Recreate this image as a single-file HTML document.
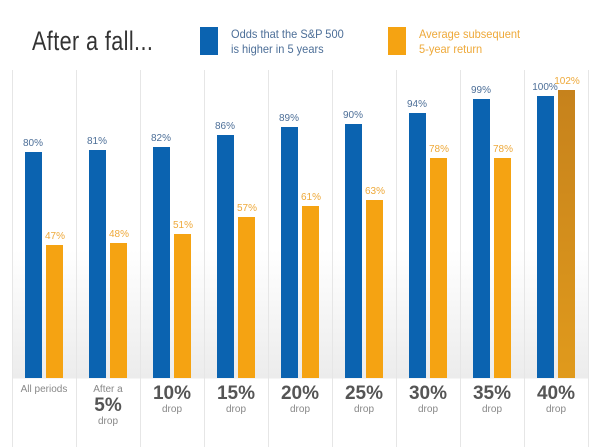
<!DOCTYPE html>
<html><head><style>
body{margin:0;width:600px;height:447px;background:#fff;font-family:"Liberation Sans",sans-serif;position:relative;overflow:hidden}
.a{position:absolute}
.col{position:absolute;top:70px;height:377px;width:64px;border-left:1px solid #e6e6e6;background:linear-gradient(#fff 0,#fff 180px,#ececec 308px,#fff 309px)}
.b{position:absolute;width:17px;background:#0b63b0}
.o{position:absolute;width:17px;background:#f5a312}
.lb{position:absolute;font-size:10px;color:#4d6f98;width:40px;text-align:center}
.lo{position:absolute;font-size:10px;color:#eea93a;width:40px;text-align:center}
.x{position:absolute;top:384px;width:64px;text-align:center;color:#888;font-size:10px;line-height:12px}
.x b{display:block;font-size:19px;line-height:20px;color:#555;font-weight:bold}
</style></head><body>
<div class="a" style="left:32px;top:26px;font-size:27px;color:#333;letter-spacing:0.5px;transform:scaleX(0.8);transform-origin:left">After a fall...</div>
<div class="a" style="left:200px;top:27px;width:18px;height:28px;background:#0b63b0"></div>
<div class="a" style="left:231px;top:27px;font-size:12px;line-height:15px;color:#4d6f98;transform:scaleX(0.92);transform-origin:left">Odds that the S&amp;P 500<br>is higher in 5 years</div>
<div class="a" style="left:388px;top:27px;width:18px;height:28px;background:#f5a312"></div>
<div class="a" style="left:419px;top:27px;font-size:12px;line-height:15px;color:#eea93a;transform:scaleX(0.92);transform-origin:left">Average subsequent<br>5-year return</div>
<div id="c"></div>
<script>
var L=[12,76,140,204,268,332,396,460,524];
var B=[80,81,82,86,89,90,94,99,100],O=[47,48,51,57,61,63,78,78,102];
var lab=['All periods','After a<b>5%</b>drop','<b>10%</b>drop','<b>15%</b>drop','<b>20%</b>drop','<b>25%</b>drop','<b>30%</b>drop','<b>35%</b>drop','<b>40%</b>drop'];
var h='',base=378,s=2.82;
for(var i=0;i<9;i++){var x=L[i];
h+='<div class="col" style="left:'+x+'px"></div>';}
h+='<div class="col" style="left:588px;width:10px;background:#fff"></div>';
for(var i=0;i<9;i++){var x=L[i];
var bh=B[i]*s,oh=O[i]*s;
h+='<div class="b" style="left:'+(x+13)+'px;top:'+(base-bh)+'px;height:'+bh+'px"></div>';
h+='<div class="o" style="left:'+(x+34)+'px;top:'+(base-oh)+'px;height:'+oh+'px;'+(i==8?'background:linear-gradient(#c6821c,#e09a1c)':'')+'"></div>';
h+='<div class="lb" style="left:'+(x+1)+'px;top:'+(base-bh-14)+'px">'+B[i]+'%</div>';
h+='<div class="lo" style="left:'+(x+23)+'px;top:'+(base-oh-14)+'px">'+O[i]+'%</div>';
h+='<div class="x" style="left:'+x+'px">'+lab[i]+'</div>';}
document.getElementById('c').innerHTML=h;
</script>
</body></html>
